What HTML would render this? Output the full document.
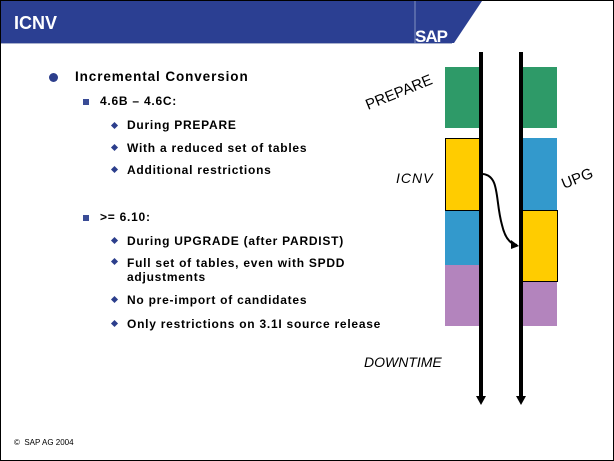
<!DOCTYPE html>
<html><head><style>
body{margin:0;width:614px;height:461px;overflow:hidden;background:#fff;font-family:"Liberation Sans",Arial,sans-serif;position:relative}
.frame{position:absolute;left:0;top:0;width:612px;height:459px;border:1px solid #000}
.t{position:absolute;font-weight:bold;font-size:12px;color:#000;white-space:nowrap;letter-spacing:0.75px}
.b1{position:absolute;width:9px;height:9px;border-radius:50%;background:#2c3e8c}
.b2{position:absolute;width:6px;height:6px;background:#3a4c96}
.b3{position:absolute;width:5px;height:5px;background:#2c3e8c;transform:rotate(45deg)}
</style></head><body>
<div class="frame"></div>
<svg style="position:absolute;left:0;top:0" width="614" height="461">
<polygon points="1,1 482,1 454,43 1,43" fill="#2b3f92"/>
<line x1="1" y1="43.5" x2="452" y2="43.5" stroke="#a8b0cc" stroke-width="1"/>
<line x1="415" y1="1" x2="415" y2="43" stroke="#8090c0" stroke-width="1"/>
<text x="14" y="29" fill="#fff" font-family="Liberation Sans" font-weight="bold" font-size="18">ICNV</text>
<text x="415" y="42" fill="#fff" font-family="Liberation Sans" font-weight="bold" font-size="17" letter-spacing="-1">SAP</text>
<rect x="445" y="67" width="36" height="61" fill="#2e9a68"/>
<rect x="521" y="67" width="36" height="61" fill="#2e9a68"/>
<rect x="445.5" y="138.5" width="36" height="72" fill="#ffcc00" stroke="#000"/>
<rect x="445" y="211" width="36" height="54" fill="#3399cc"/>
<rect x="445" y="265" width="36" height="61" fill="#b384bd"/>
<rect x="521" y="138" width="36" height="72" fill="#3399cc"/>
<rect x="521.5" y="210.5" width="36" height="71" fill="#ffcc00" stroke="#000"/>
<rect x="521" y="282" width="36" height="44" fill="#b384bd"/>
<line x1="481" y1="52" x2="481" y2="398" stroke="#000" stroke-width="4"/>
<line x1="521" y1="52" x2="521" y2="398" stroke="#000" stroke-width="4"/>
<polygon points="476,396 486,396 481,405" fill="#000"/>
<polygon points="516,396 526,396 521,405" fill="#000"/>
<path d="M483,174 C500,176 495,200 502,225 C505,238 510,244 517,245" fill="none" stroke="#000" stroke-width="2"/>
<polygon points="519,246 511,240 511,249" fill="#000"/>
<text x="0" y="0" font-family="Liberation Sans" font-size="15" transform="translate(368,110) rotate(-22)">PREPARE</text>
<text x="396" y="183" font-family="Liberation Sans" font-style="italic" font-size="14" letter-spacing="1">ICNV</text>
<text x="0" y="0" font-family="Liberation Sans" font-size="15" transform="translate(564,189) rotate(-22)">UPG</text>
<text x="364" y="367" font-family="Liberation Sans" font-style="italic" font-size="14">DOWNTIME</text>
</svg>
<div class="b1" style="left:49px;top:73px"></div>
<div class="t" style="left:75px;top:69px;font-size:13.5px;letter-spacing:0.9px">Incremental Conversion</div>
<div class="b2" style="left:83px;top:99px"></div>
<div class="t" style="left:100px;top:94px">4.6B – 4.6C:</div>
<div class="b3" style="left:112px;top:123px"></div>
<div class="t" style="left:127px;top:118px">During PREPARE</div>
<div class="b3" style="left:112px;top:145px"></div>
<div class="t" style="left:127px;top:141px">With a reduced set of tables</div>
<div class="b3" style="left:112px;top:167px"></div>
<div class="t" style="left:127px;top:163px">Additional restrictions</div>
<div class="b2" style="left:83px;top:215px"></div>
<div class="t" style="left:100px;top:210px">&gt;= 6.10:</div>
<div class="b3" style="left:112px;top:238px"></div>
<div class="t" style="left:127px;top:234px">During UPGRADE (after PARDIST)</div>
<div class="b3" style="left:112px;top:259px"></div>
<div class="t" style="left:127px;top:256px">Full set of tables, even with SPDD</div>
<div class="t" style="left:127px;top:270px">adjustments</div>
<div class="b3" style="left:112px;top:297px"></div>
<div class="t" style="left:127px;top:293px">No pre-import of candidates</div>
<div class="b3" style="left:112px;top:321px"></div>
<div class="t" style="left:127px;top:317px">Only restrictions on 3.1I source release</div>
<div style="position:absolute;left:14px;top:438px;font-size:8px">©&nbsp;&nbsp;SAP AG 2004</div>
</body></html>
